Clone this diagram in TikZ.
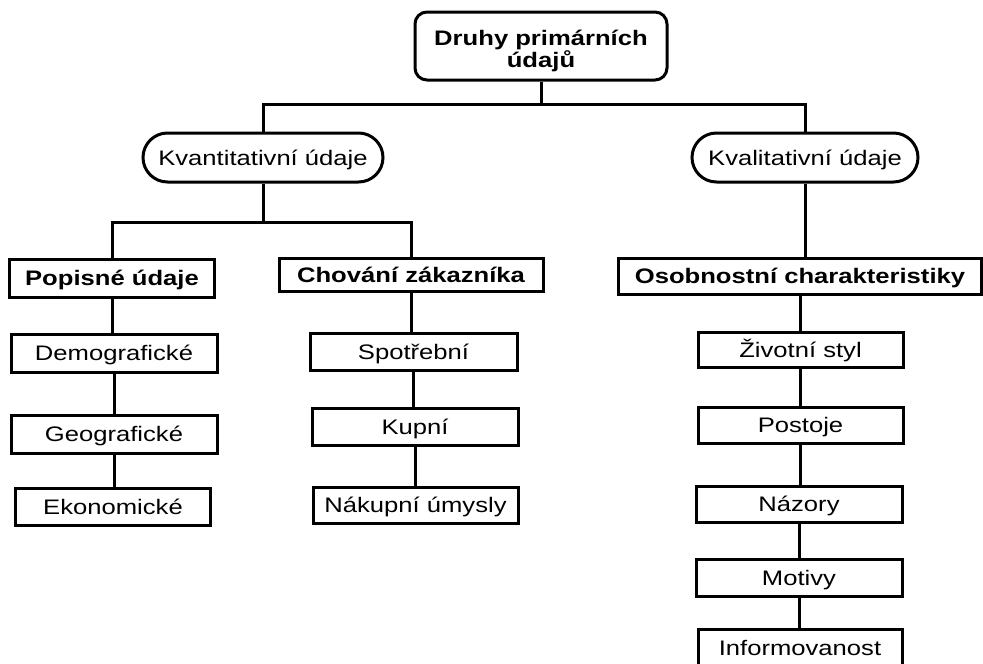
\documentclass[tikz,border=0pt]{standalone}
\usepackage{fontspec}
\setmainfont{Liberation Sans}[FakeStretch=1.22]
\usetikzlibrary{shapes.misc}

\begin{document}
\begin{tikzpicture}[x=1pt, y=-1pt, line width=3pt,
  every node/.style={font=\fontsize{21}{22}\selectfont, inner sep=0pt,
    text height=15pt, text depth=0pt},
  rootbox/.style={draw, rectangle, rounded corners=12pt, fill=white,
    font=\fontsize{21}{22}\selectfont\bfseries, align=center,
    text height=42pt, text depth=0pt},
  groupbox/.style={draw, rounded rectangle, fill=white},
  headbox/.style={draw, rectangle, fill=white, font=\fontsize{21}{22}\selectfont\bfseries},
  itembox/.style={draw, rectangle, fill=white},
  sz/.style 2 args={minimum width=#1pt, minimum height=#2pt}]

\useasboundingbox (0,0) rectangle (983,664);
\fill[white] (0,0) rectangle (983,664);
\clip (0,0) rectangle (983,664);

% root and the two groups
\node[rootbox, sz={252}{68}] (root) at (541,46) {Druhy primárních\\údajů};
\node[groupbox, sz={240}{49}] (kvant) at (263,157.5) {Kvantitativní údaje};
\node[groupbox, sz={226}{49}] (kval) at (805,157.5) {Kvalitativní údaje};

% headings
\node[headbox, sz={205}{38}] (popis) at (112,278) {Popisné údaje};
\node[headbox, sz={264}{33}] (chov) at (411,274.5) {Chování zákazníka};
\node[headbox, sz={363}{36}] (osob) at (800,276) {Osobnostní charakteristiky};

% descriptive data
\node[itembox, sz={206}{38}] (demo) at (114,353) {Demografické};
\node[itembox, sz={206}{38}] (geo) at (114,434) {Geografické};
\node[itembox, sz={195}{37}] (eko) at (113,506.5) {Ekonomické};

% customer behaviour
\node[itembox, sz={207}{37}] (spot) at (413.5,351.5) {Spotřební};
\node[itembox, sz={206}{37}] (kupni) at (415,426.5) {Kupní};
\node[itembox, sz={205}{36}] (nakup) at (415.5,505) {Nákupní úmysly};

% personality
\node[itembox, sz={205}{35}] (ziv) at (800.5,349.5) {Životní styl};
\node[itembox, sz={205}{36}] (post) at (800.5,425) {Postoje};
\node[itembox, sz={206}{36}] (naz) at (799,504) {Názory};
\node[itembox, sz={206}{37}] (mot) at (799,577.5) {Motivy};
\node[itembox, sz={204}{38}] (inf) at (800,648) {Informovanost};

% connectors
\coordinate (bus1) at (541,104);
\coordinate (bus2) at (263,222);
\draw (root.south) -- (bus1);
\draw (kvant.north) |- (bus1) -| (kval.north);
\draw (kvant.south) -- (bus2);
\draw (popis.north) |- (bus2) -| (chov.north);
\draw (kval.south) -- (kval.south |- osob.north);

\draw (popis.south) -- (popis.south |- demo.north);
\draw (demo.south) -- (demo.south |- geo.north);
\draw (geo.south) -- (geo.south |- eko.north);

\draw (chov.south) -- (chov.south |- spot.north);
\draw (spot.south) -- (spot.south |- kupni.north);
\draw (kupni.south) -- (kupni.south |- nakup.north);

\draw (osob.south) -- (osob.south |- ziv.north);
\draw (ziv.south) -- (ziv.south |- post.north);
\draw (post.south) -- (post.south |- naz.north);
\draw (naz.south) -- (naz.south |- mot.north);
\draw (mot.south) -- (mot.south |- inf.north);
\end{tikzpicture}
\end{document}
